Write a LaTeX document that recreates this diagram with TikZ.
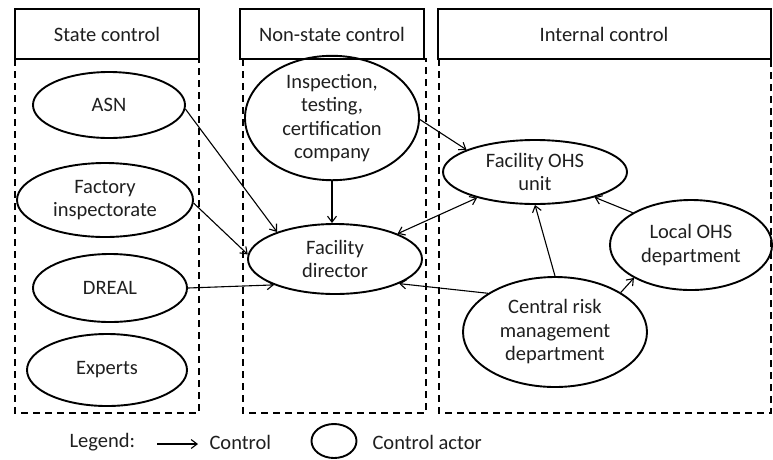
\documentclass[tikz,border=0pt]{standalone}
\usepackage{fontspec}
\setmainfont{Carlito}
\usetikzlibrary{shapes.geometric,arrows.meta}
\begin{document}
\begin{tikzpicture}[x=1pt,y=-1pt,
  every node/.style={font=\fontsize{20.5}{23.5}\selectfont, text=black!88},
  actor/.style={draw, ellipse, line width=1.9pt, inner sep=0pt, align=center},
  header/.style={draw, line width=1.7pt},
  zone/.style={draw, line width=1.7pt, dash pattern=on 7pt off 5pt},
  ctrl/.style={line width=1.1pt, -{Straight Barb[length=6pt,width=9pt]}},
  ctrlboth/.style={line width=1.1pt, {Straight Barb[length=6pt,width=9pt]}-{Straight Barb[length=6pt,width=9pt]}}
]
\useasboundingbox (0,0) rectangle (773,459);

% headers
\draw[header] (15,9) rectangle (199,59);
\node at (107,34) {State control};
\draw[header] (240,9) rectangle (424,59);
\node at (332,34) {Non-state control};
\draw[header] (438,9) rectangle (771,59);
\node at (604,34) {Internal control};

% zones
\draw[zone] (15,59) rectangle (199,413);
\draw[zone] (243,59) rectangle (426,413);
\draw[zone] (439,59) rectangle (771,413);

% actors
\node[actor, minimum width=152pt, minimum height=66pt] (asn) at (109,105) {ASN};
\node[actor, minimum width=176pt, minimum height=74pt] (fi) at (105,200) {Factory\\inspectorate};
\node[actor, minimum width=154pt, minimum height=68pt] (dreal) at (110,288) {DREAL};
\node[actor, minimum width=160pt, minimum height=72pt] (exp) at (107,370) {Experts};
\node[actor, minimum width=174pt, minimum height=106pt] (insp) at (332,118) {Inspection,\\testing,\\certification\\company};
\node[actor, minimum width=174pt, minimum height=70pt] (dir) at (335,259) {Facility\\director};
\node[actor, minimum width=184pt, minimum height=64pt] (ohs) at (535,172) {Facility OHS\\unit};
\node[actor, minimum width=162pt, minimum height=90pt] (loc) at (691,245) {Local OHS\\department};
\node[actor, minimum width=184pt, minimum height=110pt] (crm) at (555,332) {Central risk\\management\\department};

% connectors
\draw[ctrl] (asn.-3) -- (dir.155);
\draw[ctrl] (fi.-2) -- (dir.177);
\draw[ctrl] (dreal.0) -- (dir.-157);
\draw[ctrl] (insp.south) -- (insp.south |- dir.north);
\draw[ctrl] (insp.-1) -- (ohs.162);
\draw[ctrlboth] (dir.22) -- (ohs.-156);
\draw[ctrl] (crm.150) -- (dir.-21);
\draw[ctrl] (crm.north) -- (ohs.south);
\draw[ctrl] (crm.31) -- (loc.-150);
\draw[ctrl] (loc.151) -- (ohs.-23);

% legend
\node[anchor=west] (leg) at (66,442) {Legend:};
\coordinate (la) at (157,444);
\coordinate (lb) at (198,444);
\draw[ctrl] (la) -- (lb);
\node[anchor=west] (lc) at (206,442) {Control};
\node[actor, minimum width=45pt, minimum height=34pt] (lact) at (334,441) {};
\node[anchor=west] (lca) at (369,442) {Control actor};
\end{tikzpicture}
\end{document}
